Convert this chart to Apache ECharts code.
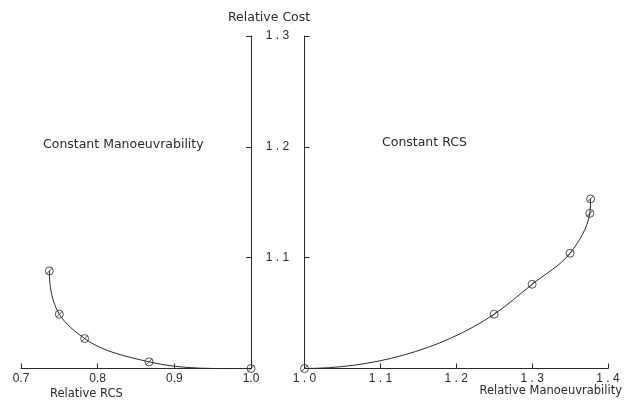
<!DOCTYPE html>
<html><head><meta charset="utf-8">
<script src="https://cdn.jsdelivr.net/npm/echarts@6/dist/echarts.min.js"></script>
<style>html,body{margin:0;background:#fff}#c{width:625px;height:400px}</style>
</head><body><div id="c"></div>
<script>
// Constant Manoeuvrability: Relative RCS vs Relative Cost
const rcsValues = [0.737, 0.750, 0.783, 0.867, 1.000];
const rcsCost   = [1.088, 1.049, 1.027, 1.006, 1.000];
// Constant RCS: Relative Manoeuvrability vs Relative Cost
const manValues = [1.000, 1.250, 1.300, 1.350, 1.376, 1.377];
const manCost   = [1.000, 1.049, 1.076, 1.104, 1.140, 1.153];
// Axis ranges / ticks
const rcsTicks = [0.7, 0.8, 0.9, 1.0];
const manTicks = [1.0, 1.1, 1.2, 1.3, 1.4];
const costTicks = [1.0, 1.1, 1.2, 1.3];

const ink = '#2a2a2a';
const tickFont = 'Liberation Sans';
const sym = 'path://M10,0A10,10 0 1,1 10,20A10,10 0 1,1 10,0Z M2.5,17.5L17.5,2.5';
const spaced = v => v.toFixed(1).split('').join(' ');

// Smooth curve through given pixel points (Bessel tangents), returns bezier segments
function splineSegments(P) {
  const n = P.length, d = [], u = [], T = [];
  const norm = v => { const l = Math.hypot(v[0], v[1]) || 1; return [v[0] / l, v[1] / l]; };
  for (let i = 0; i < n - 1; i++) {
    const dx = P[i + 1][0] - P[i][0], dy = P[i + 1][1] - P[i][1];
    d.push(Math.hypot(dx, dy)); u.push(norm([dx, dy]));
  }
  for (let i = 1; i < n - 1; i++) {
    const s = d[i - 1] + d[i];
    T[i] = norm([(d[i] * u[i - 1][0] + d[i - 1] * u[i][0]) / s, (d[i] * u[i - 1][1] + d[i - 1] * u[i][1]) / s]);
  }
  const endT = (uu, tn) => {
    if (!tn) return uu.slice();
    let t = [2 * uu[0] - tn[0], 2 * uu[1] - tn[1]];
    if (t[0] * uu[0] < 0) t[0] = 0;
    if (t[1] * uu[1] < 0) t[1] = 0;
    return norm(t);
  };
  T[0] = endT(u[0], T[1]);
  T[n - 1] = endT(u[n - 2], T[n - 2]);
  const segs = [];
  for (let i = 0; i < n - 1; i++) {
    const h = d[i] / 3;
    segs.push({x1: P[i][0], y1: P[i][1],
      cpx1: P[i][0] + T[i][0] * h, cpy1: P[i][1] + T[i][1] * h,
      cpx2: P[i + 1][0] - T[i + 1][0] * h, cpy2: P[i + 1][1] - T[i + 1][1] * h,
      x2: P[i + 1][0], y2: P[i + 1][1]});
  }
  return segs;
}

function curveSeries(xs, ys, gi) {
  return {
    type: 'custom', coordinateSystem: 'cartesian2d', xAxisIndex: gi, yAxisIndex: gi,
    data: xs.map((x, i) => [x, ys[i]]),
    silent: true,
    renderItem: (params, api) => {
      const i = params.dataIndex;
      if (i >= xs.length - 1) return null;
      const pts = xs.map((x, k) => api.coord([x, ys[k]]));
      const s = splineSegments(pts)[i];
      return {type: 'bezierCurve', shape: s, style: {stroke: ink, lineWidth: 1, fill: null}};
    }
  };
}

function markerSeries(xs, ys, gi) {
  return {
    type: 'scatter', xAxisIndex: gi, yAxisIndex: gi, z: 3,
    data: xs.map((x, i) => [x, ys[i]]),
    symbol: sym, symbolSize: 8,
    itemStyle: {color: 'rgba(0,0,0,0)', borderColor: ink, borderWidth: 1}
  };
}

const chart = echarts.init(document.getElementById('c'), null, {renderer: 'canvas'});
const axisLine = {show: true, lineStyle: {color: ink, width: 1}};
const axisTick = {show: true, inside: true, length: 5, lineStyle: {color: ink, width: 1}};

chart.setOption({
  animation: false,
  backgroundColor: '#fff',
  grid: [
    {left: 21, right: 374, top: 36, bottom: 31.5},
    {left: 304.5, right: 17, top: 36, bottom: 31.5}
  ],
  xAxis: [
    {gridIndex: 0, type: 'value', min: rcsTicks[0], max: rcsTicks[rcsTicks.length - 1], interval: 0.1,
     axisLine, axisTick, splitLine: {show: false},
     axisLabel: {color: ink, fontFamily: tickFont, fontSize: 12, margin: 4,
       formatter: v => v.toFixed(1)}},
    {gridIndex: 1, type: 'value', min: manTicks[0], max: manTicks[manTicks.length - 1], interval: 0.1,
     axisLine, axisTick, splitLine: {show: false},
     axisLabel: {color: ink, fontFamily: tickFont, fontSize: 12, margin: 4,
       formatter: v => spaced(v)}}
  ],
  yAxis: [
    {gridIndex: 0, type: 'value', position: 'right', min: costTicks[0], max: costTicks[costTicks.length - 1], interval: 0.1,
     axisLine, axisTick, splitLine: {show: false}, axisLabel: {show: false}},
    {gridIndex: 1, type: 'value', position: 'left', min: costTicks[0], max: costTicks[costTicks.length - 1], interval: 0.1,
     axisLine, axisTick, splitLine: {show: false},
     axisLabel: {color: ink, fontFamily: tickFont, fontSize: 12, margin: 27, align: 'center',
       formatter: v => (Math.abs(v - 1.0) < 1e-9 ? '' : spaced(v))}}
  ],
  series: [
    curveSeries(rcsValues, rcsCost, 0),
    markerSeries(rcsValues, rcsCost, 0),
    curveSeries(manValues, manCost, 1),
    markerSeries(manValues, manCost, 1)
  ],
  graphic: [
    {type: 'text', left: 228, top: 11, style: {text: 'Relative Cost', fill: ink, font: '12.5px "DejaVu Sans"'}},
    {type: 'text', left: 43, top: 138, style: {text: 'Constant Manoeuvrability', fill: ink, font: '12.5px "DejaVu Sans"'}},
    {type: 'text', left: 382, top: 136, style: {text: 'Constant RCS', fill: ink, font: '12.5px "DejaVu Sans"'}},
    {type: 'text', left: 50, top: 388, style: {text: 'Relative RCS', fill: ink, font: '11.5px "DejaVu Sans"'}},
    {type: 'text', right: 3, top: 385, style: {text: 'Relative Manoeuvrability', fill: ink, font: '11.5px "DejaVu Sans"'}}
  ]
});
</script>
</body></html>
